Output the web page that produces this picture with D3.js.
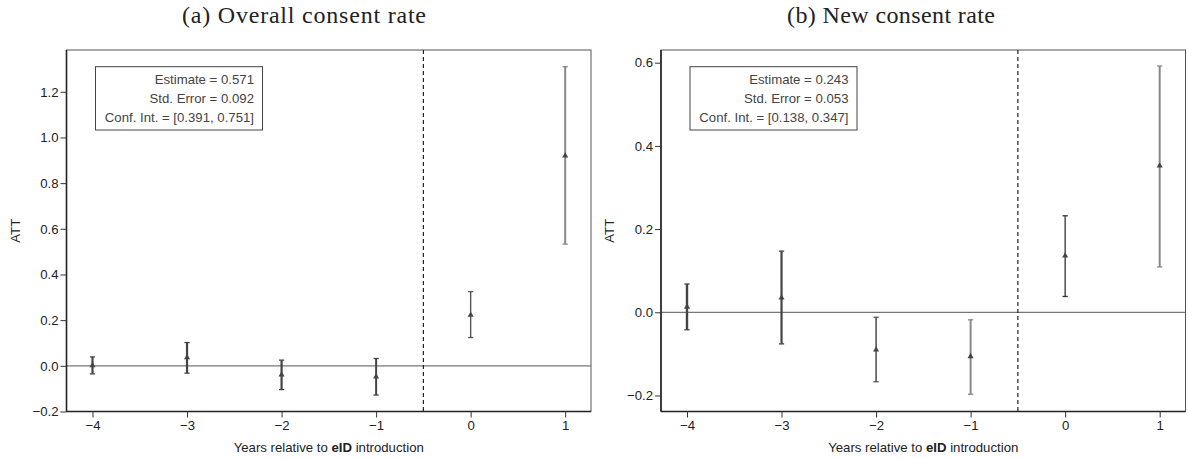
<!DOCTYPE html>
<html>
<head>
<meta charset="utf-8">
<script src="https://cdn.jsdelivr.net/npm/d3@7"></script>
<style>
  body { margin: 0; background: #fff; }
  svg text { font-family: "Liberation Sans", Arial, sans-serif; }
  .title { font-family: "Liberation Serif", "Times New Roman", serif !important; }
</style>
</head>
<body>
<div id="chart"></div>
<script>
// Event-study estimates
const periods = [-4, -3, -2, -1, 0, 1];

const overallEst = [0.002, 0.036, -0.039, -0.048, 0.223, 0.920];
const overallLo  = [-0.035, -0.032, -0.104, -0.128, 0.124, 0.533];
const overallHi  = [0.039, 0.102, 0.025, 0.032, 0.325, 1.310];

const newEst = [0.013, 0.035, -0.090, -0.106, 0.136, 0.352];
const newLo  = [-0.042, -0.076, -0.167, -0.197, 0.038, 0.109];
const newHi  = [0.068, 0.147, -0.012, -0.018, 0.232, 0.592];

const overallTicks = [-0.2, 0, 0.2, 0.4, 0.6, 0.8, 1.0, 1.2];
const newTicks = [-0.2, 0, 0.2, 0.4, 0.6];

const overallStats = ["Estimate = 0.571", "Std. Error = 0.092", "Conf. Int. = [0.391, 0.751]"];
const newStats = ["Estimate = 0.243", "Std. Error = 0.053", "Conf. Int. = [0.138, 0.347]"];

const titles = ["(a) Overall consent rate", "(b) New consent rate"];

const W = 1188, H = 459;
const svg = d3.select("#chart").append("svg")
    .attr("width", W)
    .attr("height", H);

// line look of each error bar (colour, width)
const overallLook = [["#444", 2.2], ["#444", 2.2], ["#444", 2.2], ["#444", 2], ["#555", 1.4], ["#888", 2]];
const newLook = [["#444", 2.4], ["#444", 2.2], ["#555", 1.6], ["#888", 2], ["#333", 1.3], ["#888", 2]];

drawPanel({
    left: 66.5, right: 591, top: 50, bottom: 411.5,
    yDomain: [-0.2, 1.383],
    est: overallEst, lo: overallLo, hi: overallHi,
    yTicks: overallTicks, stats: overallStats, look: overallLook,
    title: titles[0], titleX: 304, titleLen: 244
});

drawPanel({
    left: 661, right: 1185.5, top: 50, bottom: 411.5,
    yDomain: [-0.2385, 0.6305],
    est: newEst, lo: newLo, hi: newHi,
    yTicks: newTicks, stats: newStats, look: newLook,
    title: titles[1], titleX: 891, titleLen: 208
});

function drawPanel(p) {
    const x = d3.scaleLinear().domain([-4.275, 1.273]).range([p.left, p.right]);
    const y = d3.scaleLinear().domain(p.yDomain).range([p.bottom, p.top]);
    const g = svg.append("g");
    const fs = "13.2px";

    // title
    g.append("text")
        .attr("class", "title")
        .attr("x", p.titleX)
        .attr("y", 23)
        .attr("text-anchor", "middle")
        .attr("textLength", p.titleLen)
        .attr("lengthAdjust", "spacing")
        .style("font-size", "24px")
        .style("fill", "#222")
        .text(p.title);

    // frame
    g.append("rect")
        .attr("x", p.left).attr("y", p.top)
        .attr("width", p.right - p.left).attr("height", p.bottom - p.top)
        .attr("fill", "none")
        .attr("stroke", "#555")
        .attr("stroke-width", 1);

    // zero line
    g.append("line")
        .attr("x1", p.left).attr("x2", p.right)
        .attr("y1", y(0)).attr("y2", y(0))
        .attr("stroke", "#777")
        .attr("stroke-width", 1.2);

    // treatment line between -1 and 0
    g.append("line")
        .attr("x1", x(-0.5)).attr("x2", x(-0.5))
        .attr("y1", p.top).attr("y2", p.bottom)
        .attr("stroke", "#222")
        .attr("stroke-width", 1.2)
        .attr("stroke-dasharray", "4,3");

    // axes
    const xAxis = g.append("g")
        .attr("transform", `translate(0,${p.bottom})`)
        .call(d3.axisBottom(x).tickValues(periods).tickSize(6).tickPadding(3).tickFormat(d3.format("d")));
    const yAxis = g.append("g")
        .attr("transform", `translate(${p.left},0)`)
        .call(d3.axisLeft(y).tickValues(p.yTicks).tickSize(6).tickPadding(2).tickFormat(d3.format(".1f")));

    [xAxis, yAxis].forEach(a => {
        a.select(".domain").attr("stroke", "#222").attr("stroke-width", 1.6);
        a.selectAll(".tick line").attr("stroke", "#333");
        a.selectAll(".tick text").style("font-size", fs).attr("fill", "#222");
    });
    xAxis.select(".domain").attr("d", `M${p.left},0H${p.right}`);
    yAxis.select(".domain").attr("d", `M0,${p.top}V${p.bottom}`);

    // axis titles
    const xl = g.append("text")
        .attr("x", (p.left + p.right) / 2)
        .attr("y", 452)
        .attr("text-anchor", "middle")
        .style("font-size", fs)
        .style("fill", "#222");
    xl.append("tspan").text("Years relative to ");
    xl.append("tspan").style("font-weight", "bold").text("eID");
    xl.append("tspan").text(" introduction");

    g.append("text")
        .attr("transform", `translate(${p.left - 47},${(p.top + p.bottom) / 2}) rotate(-90)`)
        .attr("text-anchor", "middle")
        .style("font-size", fs)
        .style("fill", "#222")
        .text("ATT");

    // error bars
    const rows = periods.map((t, i) => ({t: t, est: p.est[i], lo: p.lo[i], hi: p.hi[i], look: p.look[i]}));
    const bars = g.selectAll(".bar").data(rows).enter().append("g").attr("class", "bar");

    bars.append("line")
        .attr("x1", d => x(d.t)).attr("x2", d => x(d.t))
        .attr("y1", d => y(d.lo)).attr("y2", d => y(d.hi))
        .attr("stroke", d => d.look[0])
        .attr("stroke-width", d => d.look[1]);

    ["lo", "hi"].forEach(k => {
        bars.append("line")
            .attr("x1", d => x(d.t) - 2.6).attr("x2", d => x(d.t) + 2.6)
            .attr("y1", d => y(d[k])).attr("y2", d => y(d[k]))
            .attr("stroke", d => d.look[0])
            .attr("stroke-width", 1.3);
    });

    bars.append("path")
        .attr("d", d3.symbol().type(d3.symbolTriangle).size(16))
        .attr("transform", d => `translate(${x(d.t)},${y(d.est)})`)
        .attr("fill", "#444");

    // stats box
    const bx = p.left + 29, by = 66.7;
    g.append("rect")
        .attr("x", bx).attr("y", by)
        .attr("width", 167).attr("height", 63.3)
        .attr("fill", "#fff")
        .attr("stroke", "#444")
        .attr("stroke-width", 1);

    g.selectAll(".stat").data(p.stats).enter().append("text")
        .attr("class", "stat")
        .attr("x", p.left + 187.5)
        .attr("y", (d, i) => 83.7 + i * 19)
        .attr("text-anchor", "end")
        .style("font-size", fs)
        .style("fill", "#444")
        .text(d => d);
}
</script>
</body>
</html>
